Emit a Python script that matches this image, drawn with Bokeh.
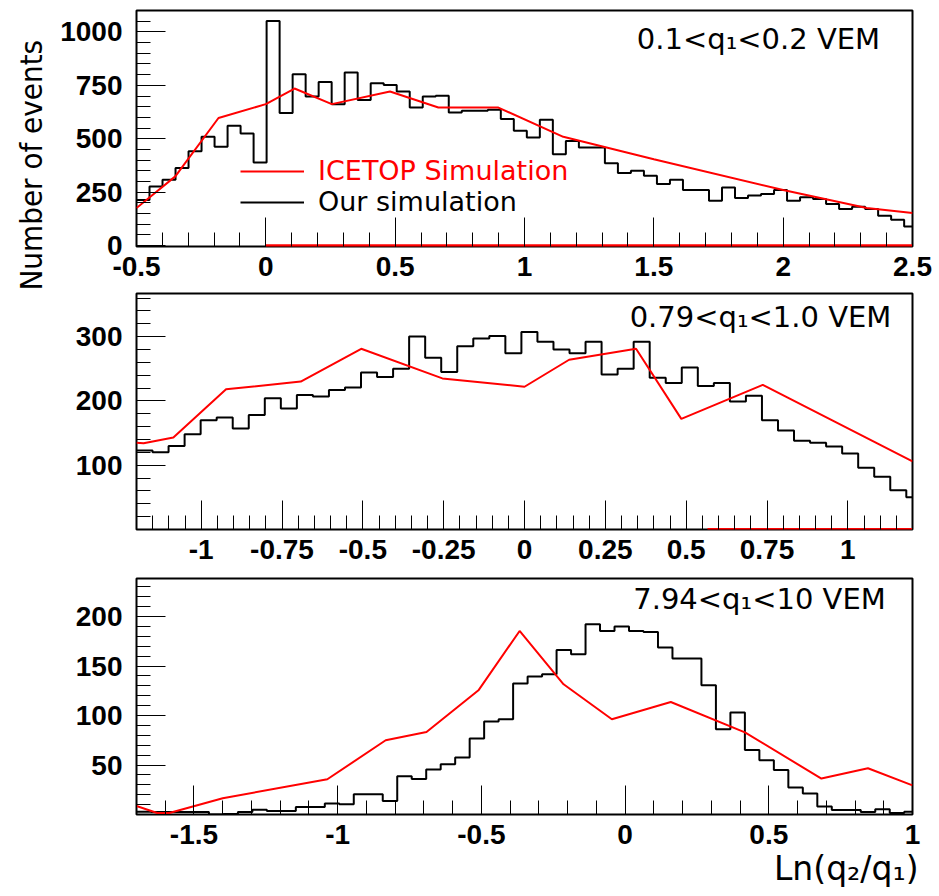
import numpy as np
from bokeh.plotting import figure
from bokeh.layouts import column
from bokeh.models import (FixedTicker, CustomJSTickFormatter, Range1d, Label,
                          Legend, LegendItem, Title)
from bokeh.embed import file_html
from bokeh.resources import INLINE

# ---------------- data ----------------
# Panel 1 : 0.1<q1<0.2 VEM
p1_bin_start = -0.5
p1_bin_width = 0.0503
p1_counts = [213, 277, 308, 363, 442, 509, 463, 561, 525, 389,
             1051, 620, 802, 698, 766, 662, 810, 681, 760, 752,
             721, 646, 698, 701, 623, 631, 631, 636, 592, 537,
             506, 589, 428, 490, 459, 459, 385, 340, 350, 327,
             288, 308, 260, 260, 210, 272, 223, 234, 242, 260,
             210, 226, 218, 195, 171, 182, 171, 140, 121, 90]
p1_ice_x = [-0.5, -0.35, -0.183, 0.0, 0.111, 0.255, 0.48, 0.667, 0.899, 1.15, 1.5, 2.0, 2.323, 2.5]
p1_ice_y = [176, 324, 597, 662, 735, 662, 721, 646, 646, 509, 404, 260, 176, 153]
p1_zero_x = [0.0, 2.5]
p1_zero_y = [0, 0]

# Panel 2 : 0.79<q1<1.0 VEM
p2_bin_start = -1.2
p2_bin_width = 0.0496
p2_counts = [123, 120, 130, 148, 170, 174, 157, 178, 204, 188,
             209, 207, 217, 221, 244, 237, 250, 300, 267, 245,
             285, 297, 301, 274, 307, 292, 280, 274, 292, 241,
             250, 292, 236, 228, 252, 223, 228, 199, 208, 170,
             154, 138, 135, 129, 118, 96, 82, 61, 50]
p2_ice_x = [-1.2, -1.178, -1.086, -0.923, -0.692, -0.505, -0.254, 0.0, 0.138, 0.345, 0.485, 0.737, 1.2]
p2_ice_y = [135, 134, 143, 218, 230, 281, 235, 222, 264, 281, 172, 225, 106]
p2_zero_x = [0.566, 1.2]
p2_zero_y = [0, 0]

# Panel 3 : 7.94<q1<10 VEM
p3_bin_start = -1.7
p3_bin_width = 0.0504
p3_counts = [2.9, 2.5, 2.5, 2.5, 2.5, 0, 0.5, 2.5, 4.9, 3.6,
             3.6, 7.6, 7.6, 11, 10.3, 20.4, 20.4, 13.7, 38.6, 36,
             45.5, 50.7, 57.5, 76.7, 93.9, 96.2, 132.3, 139.4, 141.7, 166.3,
             161.9, 192.3, 185.5, 189.9, 185.5, 184.5, 168.7, 157.6, 157.6, 130.6,
             86.1, 103, 65.2, 54.8, 45, 27.2, 21.2, 8, 4.6, 4.6,
             2.5, 5.3, 1.5, 2.9]
p3_ice_x = [-1.7, -1.628, -1.586, -1.400, -1.036, -0.833, -0.691, -0.509, -0.367, -0.214,
            -0.046, 0.159, 0.417, 0.683, 0.845, 1.0]
p3_ice_y = [8.6, 1.5, 1.5, 16.4, 35.6, 75, 83.4, 125.9, 185.5, 131.6,
            96.2, 113.7, 83, 36.3, 46.7, 29.5]

# axis ranges / ticks
p1_xrange = (-0.5, 2.5)
p1_yrange = (-4, 1100)
p1_xmajor = [-0.5, 0, 0.5, 1, 1.5, 2, 2.5]
p1_xminor_step = 0.1
p1_ymajor = [0, 250, 500, 750, 1000]
p1_yminor_step = 50

p2_xrange = (-1.2, 1.2)
p2_yrange = (0, 367)
p2_xmajor = [-1, -0.75, -0.5, -0.25, 0, 0.25, 0.5, 0.75, 1]
p2_xminor_step = 0.05
p2_ymajor = [100, 200, 300]
p2_yminor_step = 20

p3_xrange = (-1.7, 1.0)
p3_yrange = (0, 238.5)
p3_xmajor = [-1.5, -1, -0.5, 0, 0.5, 1]
p3_xminor_step = 0.1
p3_ymajor = [50, 100, 150, 200]
p3_yminor_step = 10

labels = ["0.1<q\u2081<0.2 VEM", "0.79<q\u2081<1.0 VEM", "7.94<q\u2081<10 VEM"]
y_title = "Number of events"
x_title = "Ln(q\u2082/q\u2081)"
leg_ice = "ICETOP Simulation"
leg_our = "Our simulation"

RED = "#ff0000"
TICK_FONT = "Liberation Sans"
TEXT_FONT = "DejaVu Sans"


def minor_list(r, step):
    n0 = int(np.ceil(r[0] / step - 1e-9))
    n1 = int(np.floor(r[1] / step + 1e-9))
    return [round(k * step, 4) for k in range(n0, n1 + 1)]


def make_panel(xr, yr, xmaj, xstep, ymaj, ystep, top, bottom):
    p = figure(frame_width=776, frame_height=236,
               min_border_left=136, min_border_right=20,
               min_border_top=top, min_border_bottom=bottom,
               x_range=Range1d(*xr), y_range=Range1d(*yr),
               output_backend="svg", toolbar_location=None,
               background_fill_color="white", border_fill_color="white")
    p.grid.visible = False
    p.outline_line_color = "black"
    p.outline_line_width = 2
    for ax, maj, mn in ((p.xaxis[0], xmaj, minor_list(xr, xstep)),
                        (p.yaxis[0], ymaj, minor_list(yr, ystep))):
        ax.ticker = FixedTicker(ticks=maj, minor_ticks=mn)
        ax.formatter = CustomJSTickFormatter(code="return String(Math.round(tick*1000)/1000);")
        ax.axis_line_color = None
        ax.major_tick_in = 29
        ax.major_tick_out = 0
        ax.minor_tick_in = 14
        ax.minor_tick_out = 0
        ax.major_tick_line_color = "black"
        ax.minor_tick_line_color = "black"
        ax.major_tick_line_width = 1
        ax.minor_tick_line_width = 1
        ax.major_label_text_font = TICK_FONT
        ax.major_label_text_font_style = "bold"
        ax.major_label_text_font_size = "28px"
        ax.major_label_text_color = "black"
    p.xaxis[0].major_label_standoff = 10
    p.yaxis[0].major_label_standoff = 14
    return p


def hist(p, start, width, counts):
    edges = start + width * np.arange(len(counts) + 1)
    vals = list(counts) + [counts[-1]]
    return p.step(x=edges, y=vals, mode="after", line_color="black", line_width=2)


# ---------------- panel 1 ----------------
p1 = make_panel(p1_xrange, p1_yrange, p1_xmajor, p1_xminor_step, p1_ymajor, p1_yminor_step, 10, 45)
r_black = hist(p1, p1_bin_start, p1_bin_width, p1_counts)
r_red = p1.line(p1_ice_x, p1_ice_y, line_color=RED, line_width=2)
p1.line(p1_zero_x, p1_zero_y, line_color=RED, line_width=3)
p1.add_layout(Label(x=622, y=208, x_units="screen", y_units="screen", text=labels[0],
                    text_font=TEXT_FONT, text_font_size="29px", text_align="center",
                    text_baseline="alphabetic", text_color="black"))
p1.add_layout(Title(text=y_title, align="left", offset=-44, standoff=18,
                    text_font="DejaVu Sans Condensed, Liberation Sans", text_font_size="31px",
                    text_font_style="normal", text_color="black"), "left")
common = dict(orientation="vertical", glyph_width=64, glyph_height=30, label_height=30,
              label_standoff=14, padding=0, margin=0, spacing=0, border_line_color=None,
              background_fill_alpha=0, label_text_font=TEXT_FONT, label_text_font_size="27px")
p1.add_layout(Legend(items=[LegendItem(label=leg_ice, renderers=[r_red])],
                     location=(104, 60), label_text_color=RED, **common))
p1.add_layout(Legend(items=[LegendItem(label=leg_our, renderers=[r_black])],
                     location=(104, 29), label_text_color="black", **common))

# ---------------- panel 2 ----------------
p2 = make_panel(p2_xrange, p2_yrange, p2_xmajor, p2_xminor_step, p2_ymajor, p2_yminor_step, 2, 45)
hist(p2, p2_bin_start, p2_bin_width, p2_counts)
p2.line(p2_ice_x, p2_ice_y, line_color=RED, line_width=2)
p2.line(p2_zero_x, p2_zero_y, line_color=RED, line_width=3)
p2.add_layout(Label(x=624, y=213, x_units="screen", y_units="screen", text=labels[1],
                    text_font=TEXT_FONT, text_font_size="29px", text_align="center",
                    text_baseline="alphabetic", text_color="black"))

# ---------------- panel 3 ----------------
p3 = make_panel(p3_xrange, p3_yrange, p3_xmajor, p3_xminor_step, p3_ymajor, p3_yminor_step, 4, 80)
hist(p3, p3_bin_start, p3_bin_width, p3_counts)
p3.line(p3_ice_x, p3_ice_y, line_color=RED, line_width=2)
p3.add_layout(Label(x=623, y=216, x_units="screen", y_units="screen", text=labels[2],
                    text_font=TEXT_FONT, text_font_size="29px", text_align="center",
                    text_baseline="alphabetic", text_color="black"))
p3.add_layout(Title(text=x_title, align="right", offset=-6, standoff=0,
                    text_font=TEXT_FONT, text_font_size="33px",
                    text_font_style="normal", text_color="black"), "below")

layout = column(p1, p2, p3, spacing=0)
open("out.html", "w").write(file_html(layout, INLINE))
